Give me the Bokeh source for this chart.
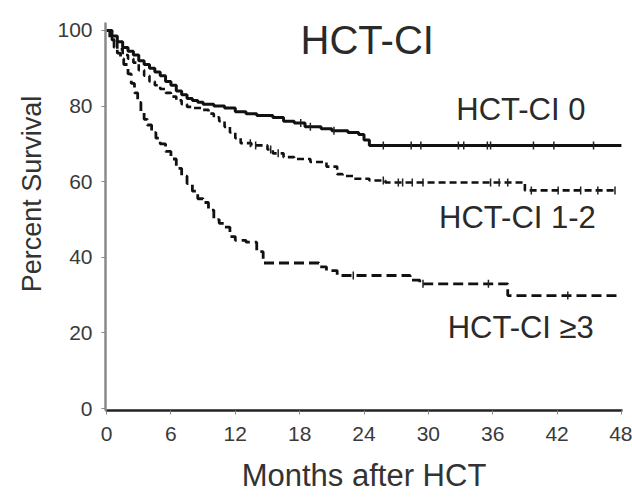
import numpy as np
from bokeh.plotting import figure
from bokeh.models import Label, FixedTicker, Range1d
from bokeh.embed import file_html
from bokeh.resources import INLINE

# ---- data ----
x_ticks = [0, 6, 12, 18, 24, 30, 36, 42, 48]
y_ticks = [0, 20, 40, 60, 80, 100]

# HCT-CI 0
t0 = [0, 0.5, 1.0, 1.5, 2.0, 2.5, 3.0, 3.5, 4.0, 4.5, 5.0, 5.5, 6.0, 6.5, 7.0, 7.5,
      8.0, 8.5, 9.0, 10.0, 11.0, 12.0, 13.0, 14.0, 15.5, 16.5, 17.5, 18.5, 20.0, 21.0,
      22.5, 23.5, 24.0, 24.5]
s0 = [100, 98.5, 97, 95.5, 94.5, 93.5, 92, 91, 90, 89, 88, 86.5, 85.5, 84, 83, 82,
      81.5, 81, 80.5, 80, 79.5, 78.5, 78, 77.5, 77, 76, 75.5, 74.5, 74, 73.5,
      73, 72.5, 71, 69.6]
end0 = 48.0
cens0 = [18.1, 19.0, 21.2, 25.8, 28.4, 29.3, 32.8, 33.3, 35.5, 35.8, 39.8, 41.7, 45.4]

# HCT-CI 1-2
t1 = [0, 0.5, 1.0, 1.5, 2.0, 2.5, 3.0, 3.5, 4.0, 4.5, 5.0, 5.5, 6.0, 6.5, 7.0, 7.5,
      8.0, 9.0, 9.5, 10.0, 10.5, 11.0, 11.5, 12.0, 12.5, 13.5, 15.0, 15.5, 16.5, 17.5,
      19.0, 20.5, 21.5, 22.0, 23.0, 24.5, 26.0, 39.0]
s1 = [100, 97.5, 95, 93.5, 92.5, 91.5, 89.5, 88, 86.5, 85.5, 84.5, 83.5, 82.5, 81.5,
      80.5, 79.8, 79.5, 79, 78, 77, 76, 74.5, 73, 71.5, 70.2, 69.6, 68.5, 67.5, 66.5,
      66, 65.2, 64, 62, 61.5, 60.8, 60.3, 59.8, 57.7]
end1 = 47.5
cens1 = [13.4, 13.9, 15.3, 16.0, 25.8, 27.2, 27.6, 28.5, 29.5, 35.8, 36.6, 37.4,
         39.6, 42.1, 44.2, 45.8, 47.4]

# HCT-CI >=3
t3 = [0, 0.3, 0.7, 1.0, 1.3, 1.6, 2.0, 2.3, 2.6, 2.9, 3.2, 3.5, 3.8, 4.2, 4.6, 5.0,
      5.5, 6.0, 6.5, 7.0, 7.5, 8.0, 8.5, 9.0, 9.5, 10.0, 10.5, 11.0, 11.5, 12.0, 13.0,
      14.0, 14.6, 19.0, 19.8, 20.5, 21.5, 28.3, 29.2, 37.4]
s3 = [100, 97.5, 95.5, 94, 92.5, 91, 88.5, 86, 83.5, 81, 78.5, 76.5, 75, 73, 71.5, 70,
      68, 66, 63.5, 61.5, 59.5, 57.5, 55.5, 54.5, 52.5, 50, 49, 48, 45.5, 44.5, 44,
      41.5, 38.5, 38.5, 37.5, 36.5, 35.2, 34, 33, 29.9]
end3 = 47.7
cens3 = [23.0, 29.5, 35.6, 43.0]

FONT = "Liberation Sans"
NB = "\u00a0"


def step_xy(t, s, end):
    xs = list(t) + [end]
    ys = list(s) + [s[-1]]
    return xs, ys


def at(t, s, c):
    idx = np.searchsorted(np.asarray(t), np.asarray(c), side="right") - 1
    return [s[i] for i in idx]


p = figure(width=632, height=497, output_backend="svg", toolbar_location=None,
           x_range=Range1d(-0.1, 48.1), y_range=Range1d(-0.5, 102.1),
           min_border_left=105, min_border_right=10, min_border_top=22,
           min_border_bottom=87)
p.background_fill_color = "white"
p.border_fill_color = "white"
p.outline_line_color = None
p.xgrid.visible = False
p.ygrid.visible = False

for ax in (p.xaxis[0], p.yaxis[0]):
    ax.major_label_text_font = FONT
    ax.major_label_text_font_size = "21px"
    ax.major_label_text_color = "#3a3a3a"
    ax.major_tick_in = 0
    ax.major_tick_out = 4
    ax.minor_tick_in = 0
    ax.minor_tick_out = 0
    ax.major_tick_line_color = "#888888"
    ax.axis_line_width = 2.5
    ax.axis_label_text_font = FONT
    ax.axis_label_text_font_style = "normal"
    ax.axis_label_text_color = "#333333"

p.xaxis.ticker = FixedTicker(ticks=x_ticks)
p.yaxis.ticker = FixedTicker(ticks=y_ticks)
p.xaxis.axis_line_color = "#222222"
p.yaxis.axis_line_color = "#8a8a8a"
p.xaxis.major_label_standoff = 12
p.yaxis.major_label_standoff = 9

p.xaxis.axis_label = "Months after HCT"
p.xaxis.axis_label_text_font_size = "31px"
p.xaxis.axis_label_standoff = 14
p.yaxis.axis_label = NB * 6 + "Percent Survival"
p.yaxis.axis_label_text_font_size = "27px"
p.yaxis.axis_label_standoff = 7

x0, y0 = step_xy(t0, s0, end0)
x1, y1 = step_xy(t1, s1, end1)
x3, y3 = step_xy(t3, s3, end3)

p.step(x0, y0, mode="after", line_color="#111111", line_width=3)
p.step(x1, y1, mode="after", line_color="#111111", line_width=2.6, line_dash="7 4")
p.step(x3, y3, mode="after", line_color="#111111", line_width=2.8, line_dash="10 5")

p.scatter(cens0, at(t0, s0, cens0), marker="dash", angle=np.pi / 2, size=8,
          line_color="#222222", line_width=1.5)
p.scatter(cens1, at(t1, s1, cens1), marker="dash", angle=np.pi / 2, size=8,
          line_color="#222222", line_width=1.5)
p.scatter(cens3, at(t3, s3, cens3), marker="dash", angle=np.pi / 2, size=8,
          line_color="#222222", line_width=1.5)

labels = [
    ("HCT-CI", 24.3, 97.4, "40px", "center"),
    ("HCT-CI 0", 32.6, 79.1, "31px", "left"),
    ("HCT-CI 1-2", 31.0, 50.5, "31px", "left"),
    ("HCT-CI \u22653", 31.8, 21.4, "31px", "left"),
]
for txt, lx, ly, fs, al in labels:
    p.add_layout(Label(x=lx, y=ly, text=txt, text_font=FONT, text_font_size=fs,
                       text_align=al, text_baseline="alphabetic",
                       text_color="#2a2a2a"))

open("out.html", "w").write(file_html(p, INLINE))
